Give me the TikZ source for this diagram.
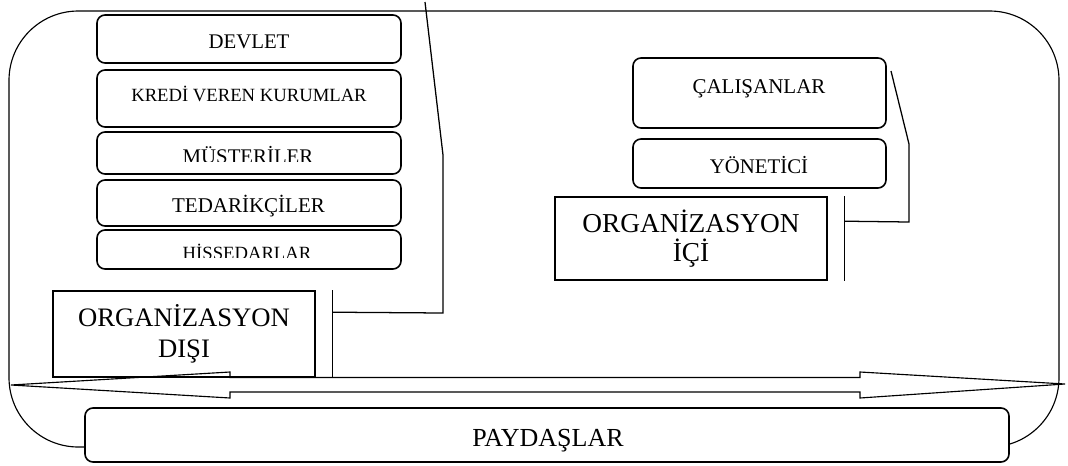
\documentclass[tikz,border=0pt]{standalone}
\usepackage{fontspec}
\setmainfont{Liberation Serif}
\usetikzlibrary{calc}
\begin{document}
\begin{tikzpicture}[x=0.75pt,y=-0.75pt,
  rbox/.style={draw, line width=1.2pt, rounded corners=6pt, inner sep=0pt},
  sbox/.style={draw, line width=1.2pt, inner sep=0pt, align=center},
  txt/.style={inner sep=0pt, anchor=base},
  lead/.style={draw, line width=0.95pt},
  outline/.style={draw, line width=0.85pt}]
\useasboundingbox (0,0) rectangle (1068,465);

% big rounded frame
\draw[outline, rounded corners=52pt] (9,11) rectangle (1059,447);

% left boxes
\node[rbox, minimum width=228pt, minimum height=36pt] (devlet) at (249,39) {};
\node[txt, font=\fontsize{15.6}{18}\selectfont] (devlett) at (249,48) {DEVLET};

\node[rbox, minimum width=228pt, minimum height=42.75pt] (kredi) at (249,98.5) {};
\node[txt, font=\fontsize{14}{17}\selectfont] (kredit) at (249,101) {KREDİ VEREN KURUMLAR};

\node[rbox, minimum width=228pt, minimum height=31.5pt] (musteri) at (249,153) {};
\begin{scope}
  \clip (97,128) rectangle (401,161.6);
  \node[txt, font=\fontsize{15.6}{18}\selectfont] (musterit) at (248,163) {MÜŞTERİLER};
\end{scope}

\node[rbox, minimum width=228pt, minimum height=34.5pt] (tedarik) at (249,203) {};
\node[txt, font=\fontsize{15.75}{18}\selectfont] (tedarikt) at (248.5,212.5) {TEDARİKÇİLER};

\node[rbox, minimum width=228pt, minimum height=29.25pt] (hisse) at (249,249.5) {};
\begin{scope}
  \clip (97,226) rectangle (401,257.8);
  \node[txt, font=\fontsize{14}{17}\selectfont] (hisset) at (247,259.5) {HİSSEDARLAR};
\end{scope}

% right boxes
\node[rbox, minimum width=189.75pt, minimum height=52.5pt] (calisan) at (759.5,93) {};
\node[txt, font=\fontsize{15.75}{18}\selectfont] (calisant) at (759,93.3) {ÇALIŞANLAR};

\node[rbox, minimum width=189.75pt, minimum height=36.75pt] (yonetici) at (759.5,163.5) {};
\node[txt, font=\fontsize{15.6}{18}\selectfont] (yoneticit) at (759,173.3) {YÖNETİCİ};

% organisation boxes
\node[sbox, minimum width=196.5pt, minimum height=64.5pt, font=\fontsize{20}{23}\selectfont] (orgdisi) at (184,334) {ORGANİZASYON\\DIŞI};
\node[sbox, minimum width=204pt, minimum height=62.25pt, font=\fontsize{20.5}{21.75}\selectfont] (orgici) at (691,238.5) {ORGANİZASYON\\İÇİ\hspace{12pt}};

% callout for ORGANIZASYON DISI
\coordinate (lb1) at ($(orgdisi.north east)+(17,0)$);
\coordinate (lb2) at ($(orgdisi.south east)+(17,0)$);
\coordinate (lk0) at ($(orgdisi.north east)+(17,22)$);
\coordinate (lk1) at (443,313);
\coordinate (lk2) at (443,155);
\coordinate (lk3) at (425,2);
\draw[lead] (lb1) -- (lb2);
\draw[lead] (lk0) -- (lk1) -- (lk2) -- (lk3);

% callout for ORGANIZASYON ICI
\coordinate (rb1) at ($(orgici.north east)+(17,0)$);
\coordinate (rb2) at ($(orgici.south east)+(17,0)$);
\coordinate (rk0) at ($(orgici.north east)+(17,25)$);
\coordinate (rk1) at (909,222);
\coordinate (rk2) at (909,144);
\coordinate (rk3) at (891,71);
\draw[lead] (rb1) -- (rb2);
\draw[lead] (rk0) -- (rk1) -- (rk2) -- (rk3);

% double block arrow
\draw[outline] (11,385) -- (230,372) -- (230,377.5) -- (860,377.5) -- (860,372)
  -- (1065,384) -- (860,398) -- (860,392) -- (230,392) -- (230,398) -- cycle;

% PAYDASLAR
\node[rbox, fill=white, minimum width=693pt, minimum height=40.5pt] (paydas) at (547,435) {};
\node[txt, font=\fontsize{19.5}{23}\selectfont] (paydast) at (548,446.7) {PAYDAŞLAR};
\end{tikzpicture}
\end{document}
